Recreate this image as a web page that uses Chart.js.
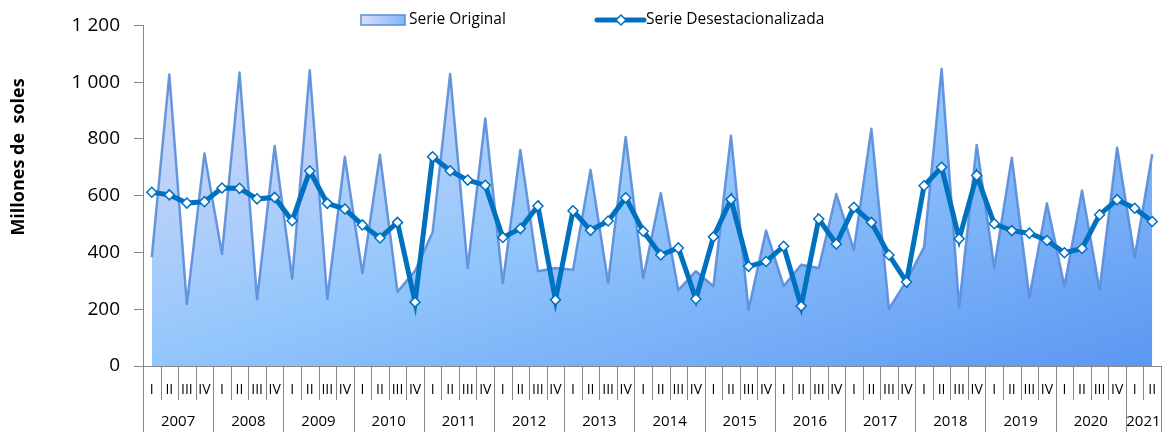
<!DOCTYPE html>
<html>
<head>
<meta charset="utf-8">
<script src="https://cdn.jsdelivr.net/npm/chart.js@4/dist/chart.umd.min.js"></script>
<style>
  html, body { margin: 0; background: #fff; }
  #wrap { width: 1170px; height: 432px; }
</style>
</head>
<body>
<div id="wrap"><canvas id="c"></canvas></div>
<script>
// --- Données (millones de soles) ---
const YEARS = ['2007', '2008', '2009', '2010', '2011', '2012', '2013', '2014',
               '2015', '2016', '2017', '2018', '2019', '2020', '2021'];
const QUARTERS = ['I', 'II', 'III', 'IV'];

const serieOriginal = [
  384, 1027, 218, 749,
  395, 1034, 235, 775,
  308, 1042, 237, 737,
  327, 744, 261, 335,
  471, 1029, 345, 872,
  292, 761, 334, 345,
  339, 691, 294, 807,
  310, 609, 267, 334,
  281, 811, 199, 477,
  282, 357, 345, 606,
  409, 836, 202, 300,
  419, 1047, 208, 779,
  348, 734, 243, 573,
  282, 618, 269, 770,
  384, 746
];

const serieDesest = [
  612, 603, 574, 579,
  627, 626, 589, 594,
  512, 687, 573, 553,
  497, 451, 506, 225,
  737, 688, 655, 637,
  453, 484, 564, 233,
  547, 478, 511, 593,
  475, 391, 416, 236,
  455, 587, 351, 368,
  422, 211, 518, 430,
  559, 506, 391, 296,
  635, 700, 448, 671,
  501, 477, 468, 442,
  399, 414, 533, 586,
  556, 509
];

const labels = serieOriginal.map((_, i) => QUARTERS[i % 4]);

const GRAY = '#868686';
const FONT = "'Open Sans', 'Noto Sans', sans-serif";
const fmtMiles = (n) => String(n).replace(/\B(?=(\d{3})+(?!\d))/g, ' ');

// --- Dégradé de l'aire ---
function areaGradient(ctx, a) {
  const w = a.right - a.left, h = a.bottom - a.top;
  const k = 2 / (1 / (w * w) + 1 / (h * h));
  const g = ctx.createLinearGradient(a.left, a.top, a.left + k / w, a.top + k / h);
  g.addColorStop(0, '#e2dcf8');
  g.addColorStop(0.5, '#92c6fc');
  g.addColorStop(1, '#5b96f2');
  return g;
}

// --- Séparateurs, années et titre de l'axe Y ---
const yearBands = {
  id: 'yearBands',
  afterDraw(chart) {
    const { ctx, chartArea: a } = chart;
    const x = chart.scales.x;
    const n = labels.length;
    const half = (x.getPixelForValue(1) - x.getPixelForValue(0)) / 2;
    ctx.save();
    ctx.strokeStyle = GRAY;
    ctx.lineWidth = 1;
    for (let i = 0; i <= n; i++) {
      const px = Math.round(x.getPixelForValue(Math.min(i, n - 1)) + (i === n ? half : -half)) + 0.5;
      const long = i % 4 === 0 || i === n;
      ctx.beginPath();
      ctx.moveTo(px, a.bottom);
      ctx.lineTo(px, long ? chart.height : a.bottom + 34);
      ctx.stroke();
    }
    ctx.fillStyle = '#000';
    ctx.font = '15px ' + FONT;
    ctx.textAlign = 'center';
    ctx.textBaseline = 'middle';
    YEARS.forEach((yr, k) => {
      const first = k * 4, last = Math.min(k * 4 + 3, n - 1);
      const cx = (x.getPixelForValue(first) + x.getPixelForValue(last)) / 2;
      ctx.fillText(yr, cx, 422);
    });
    // titre Y
    ctx.translate(19, 157);
    ctx.rotate(-Math.PI / 2);
    ctx.font = 'bold 18px ' + FONT;
    ctx.fillText('Millones de  soles', 0, 0);
    ctx.restore();
  }
};

// --- Légende ---
const legendTop = {
  id: 'legendTop',
  afterDraw(chart) {
    const { ctx } = chart;
    const y = 20;
    ctx.save();
    // Serie Original
    const g = ctx.createLinearGradient(360, 15, 405, 25);
    g.addColorStop(0, '#e2dcf8');
    g.addColorStop(1, '#7fb6fb');
    ctx.fillStyle = g;
    ctx.fillRect(361, 15, 44, 10);
    ctx.strokeStyle = '#5a8fd6';
    ctx.lineWidth = 1.5;
    ctx.strokeRect(361, 15, 44, 10);
    ctx.fillStyle = '#000';
    ctx.font = '15.5px ' + FONT;
    ctx.textBaseline = 'middle';
    ctx.fillText('Serie Original', 409, y);
    // Serie Desestacionalizada
    ctx.strokeStyle = '#0070c0';
    ctx.lineWidth = 5;
    ctx.lineCap = 'round';
    ctx.beginPath();
    ctx.moveTo(597, y);
    ctx.lineTo(644, y);
    ctx.stroke();
    ctx.lineWidth = 1.5;
    ctx.fillStyle = '#fff';
    ctx.beginPath();
    ctx.moveTo(621, y - 5);
    ctx.lineTo(626, y);
    ctx.lineTo(621, y + 5);
    ctx.lineTo(616, y);
    ctx.closePath();
    ctx.fill();
    ctx.stroke();
    ctx.fillStyle = '#000';
    ctx.fillText('Serie Desestacionalizada', 646, y);
    ctx.restore();
  }
};

new Chart(document.getElementById('c'), {
  type: 'line',
  data: {
    labels,
    datasets: [
      {
        label: 'Serie Desestacionalizada',
        data: serieDesest,
        order: 0,
        borderColor: '#0070c0',
        borderWidth: 5,
        pointStyle: 'rectRot',
        pointRadius: 5,
        pointBackgroundColor: '#fff',
        pointBorderColor: '#0070c0',
        pointBorderWidth: 1.5,
        tension: 0,
        fill: false
      },
      {
        label: 'Serie Original',
        data: serieOriginal,
        order: 1,
        borderColor: 'rgba(88,140,216,0.9)',
        borderWidth: 2.5,
        borderJoinStyle: 'round',
        pointRadius: 0,
        tension: 0,
        fill: 'origin',
        backgroundColor: (c) => {
          const a = c.chart.chartArea;
          return a ? areaGradient(c.chart.ctx, a) : '#92c6fc';
        }
      }
    ]
  },
  options: {
    responsive: true,
    maintainAspectRatio: false,
    animation: false,
    layout: { padding: { top: 24, right: 9, bottom: 0, left: 0 } },
    plugins: {
      legend: { display: false },
      tooltip: { enabled: false }
    },
    scales: {
      x: {
        type: 'category',
        offset: true,
        grid: { display: false },
        border: { color: GRAY, width: 1 },
        ticks: {
          autoSkip: false,
          maxRotation: 0,
          minRotation: 0,
          padding: 8,
          color: '#000',
          font: { family: FONT, size: 14 }
        },
        afterFit: (s) => { s.height = 66; }
      },
      y: {
        min: 0,
        max: 1200,
        ticks: {
          stepSize: 200,
          padding: 14,
          color: '#000',
          font: { family: FONT, size: 19 },
          callback: (v) => fmtMiles(v)
        },
        grid: {
          drawOnChartArea: false,
          drawTicks: true,
          tickLength: 9,
          color: GRAY
        },
        border: { color: GRAY, width: 1 },
        afterFit: (s) => { s.width = 143; }
      }
    }
  },
  plugins: [yearBands, legendTop]
});
</script>
</body>
</html>
